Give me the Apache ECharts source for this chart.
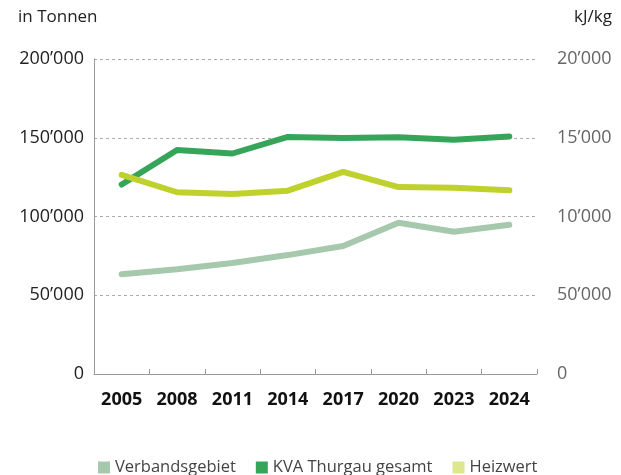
<!DOCTYPE html>
<html><head><meta charset="utf-8">
<script src="https://cdn.jsdelivr.net/npm/echarts@6/dist/echarts.min.js"></script>
<style>html,body{margin:0;padding:0;background:#fff}#c{width:621px;height:475px}</style>
</head><body><div id="c"></div>
<script>
const years = ['2005','2008','2011','2014','2017','2020','2023','2024'];
const verbandsgebiet = [63300, 66500, 70500, 75500, 81300, 96000, 90300, 94700];
const kvaThurgau = [120300, 142200, 140000, 150500, 149800, 150300, 148800, 150800];
const heizwert = [12640, 11540, 11430, 11640, 12830, 11870, 11830, 11660];
const leftTicks = {0:'0',50000:'50’000',100000:'100’000',150000:'150’000',200000:'200’000'};
const rightTicks = {0:'0',5000:'50’000',10000:'10’000',15000:'15’000',20000:'20’000'};
const font = '"Open Sans", "Noto Sans", sans-serif';
const chart = echarts.init(document.getElementById('c'));
chart.setOption({
  animation:false,
  textStyle:{fontFamily:font},
  graphic:[
    {type:'text',left:18,top:9,style:{text:'in Tonnen',font:'17px '+font,fill:'#222'}},
    {type:'text',right:9,top:9,style:{text:'kJ/kg',font:'17px '+font,fill:'#222'}}
  ],
  grid:{left:94,right:84,top:59,bottom:101},
  legend:{
    left:93,top:454,icon:'rect',itemWidth:12,itemHeight:12,itemGap:20,
    textStyle:{fontSize:16.5,color:'#444',fontFamily:font},
    data:[
      {name:'Verbandsgebiet',itemStyle:{color:'#a6c8ad'}},
      {name:'KVA Thurgau gesamt',itemStyle:{color:'#37a559'}},
      {name:'Heizwert',itemStyle:{color:'#dde78e'}}
    ]
  },
  xAxis:{
    type:'category',data:years,boundaryGap:true,
    axisLine:{lineStyle:{color:'#999',width:1}},
    axisTick:{show:true,inside:true,length:5,lineStyle:{color:'#999'}},
    axisLabel:{fontSize:18,fontWeight:'bold',color:'#111',margin:17,fontFamily:font}
  },
  yAxis:[
    {type:'value',min:0,max:200000,interval:50000,position:'left',
     axisLine:{show:true,lineStyle:{color:'#999'}},axisTick:{show:false},
     splitLine:{show:true,lineStyle:{color:'#aaa',type:[3,3],width:1}},
     axisLabel:{fontSize:18,color:'#222',margin:10,formatter:v=>leftTicks[v]??'',fontFamily:font}},
    {type:'value',min:0,max:20000,interval:5000,position:'right',
     axisLine:{show:false},axisTick:{show:false},splitLine:{show:false},
     axisLabel:{fontSize:18,color:'#666',margin:20,formatter:v=>rightTicks[v]??'',fontFamily:font}}
  ],
  series:[
    {name:'Verbandsgebiet',type:'line',data:verbandsgebiet,yAxisIndex:0,symbol:'none',
     lineStyle:{color:'#a6c8ad',width:6,cap:'round',join:'round'},itemStyle:{color:'#a6c8ad'}},
    {name:'KVA Thurgau gesamt',type:'line',data:kvaThurgau,yAxisIndex:0,symbol:'none',
     lineStyle:{color:'#37a559',width:6,cap:'round',join:'round'},itemStyle:{color:'#37a559'}},
    {name:'Heizwert',type:'line',data:heizwert,yAxisIndex:1,symbol:'none',
     lineStyle:{color:'#bfd12c',width:6,cap:'round',join:'round'},itemStyle:{color:'#dde78e'}}
  ]
});
</script></body></html>
